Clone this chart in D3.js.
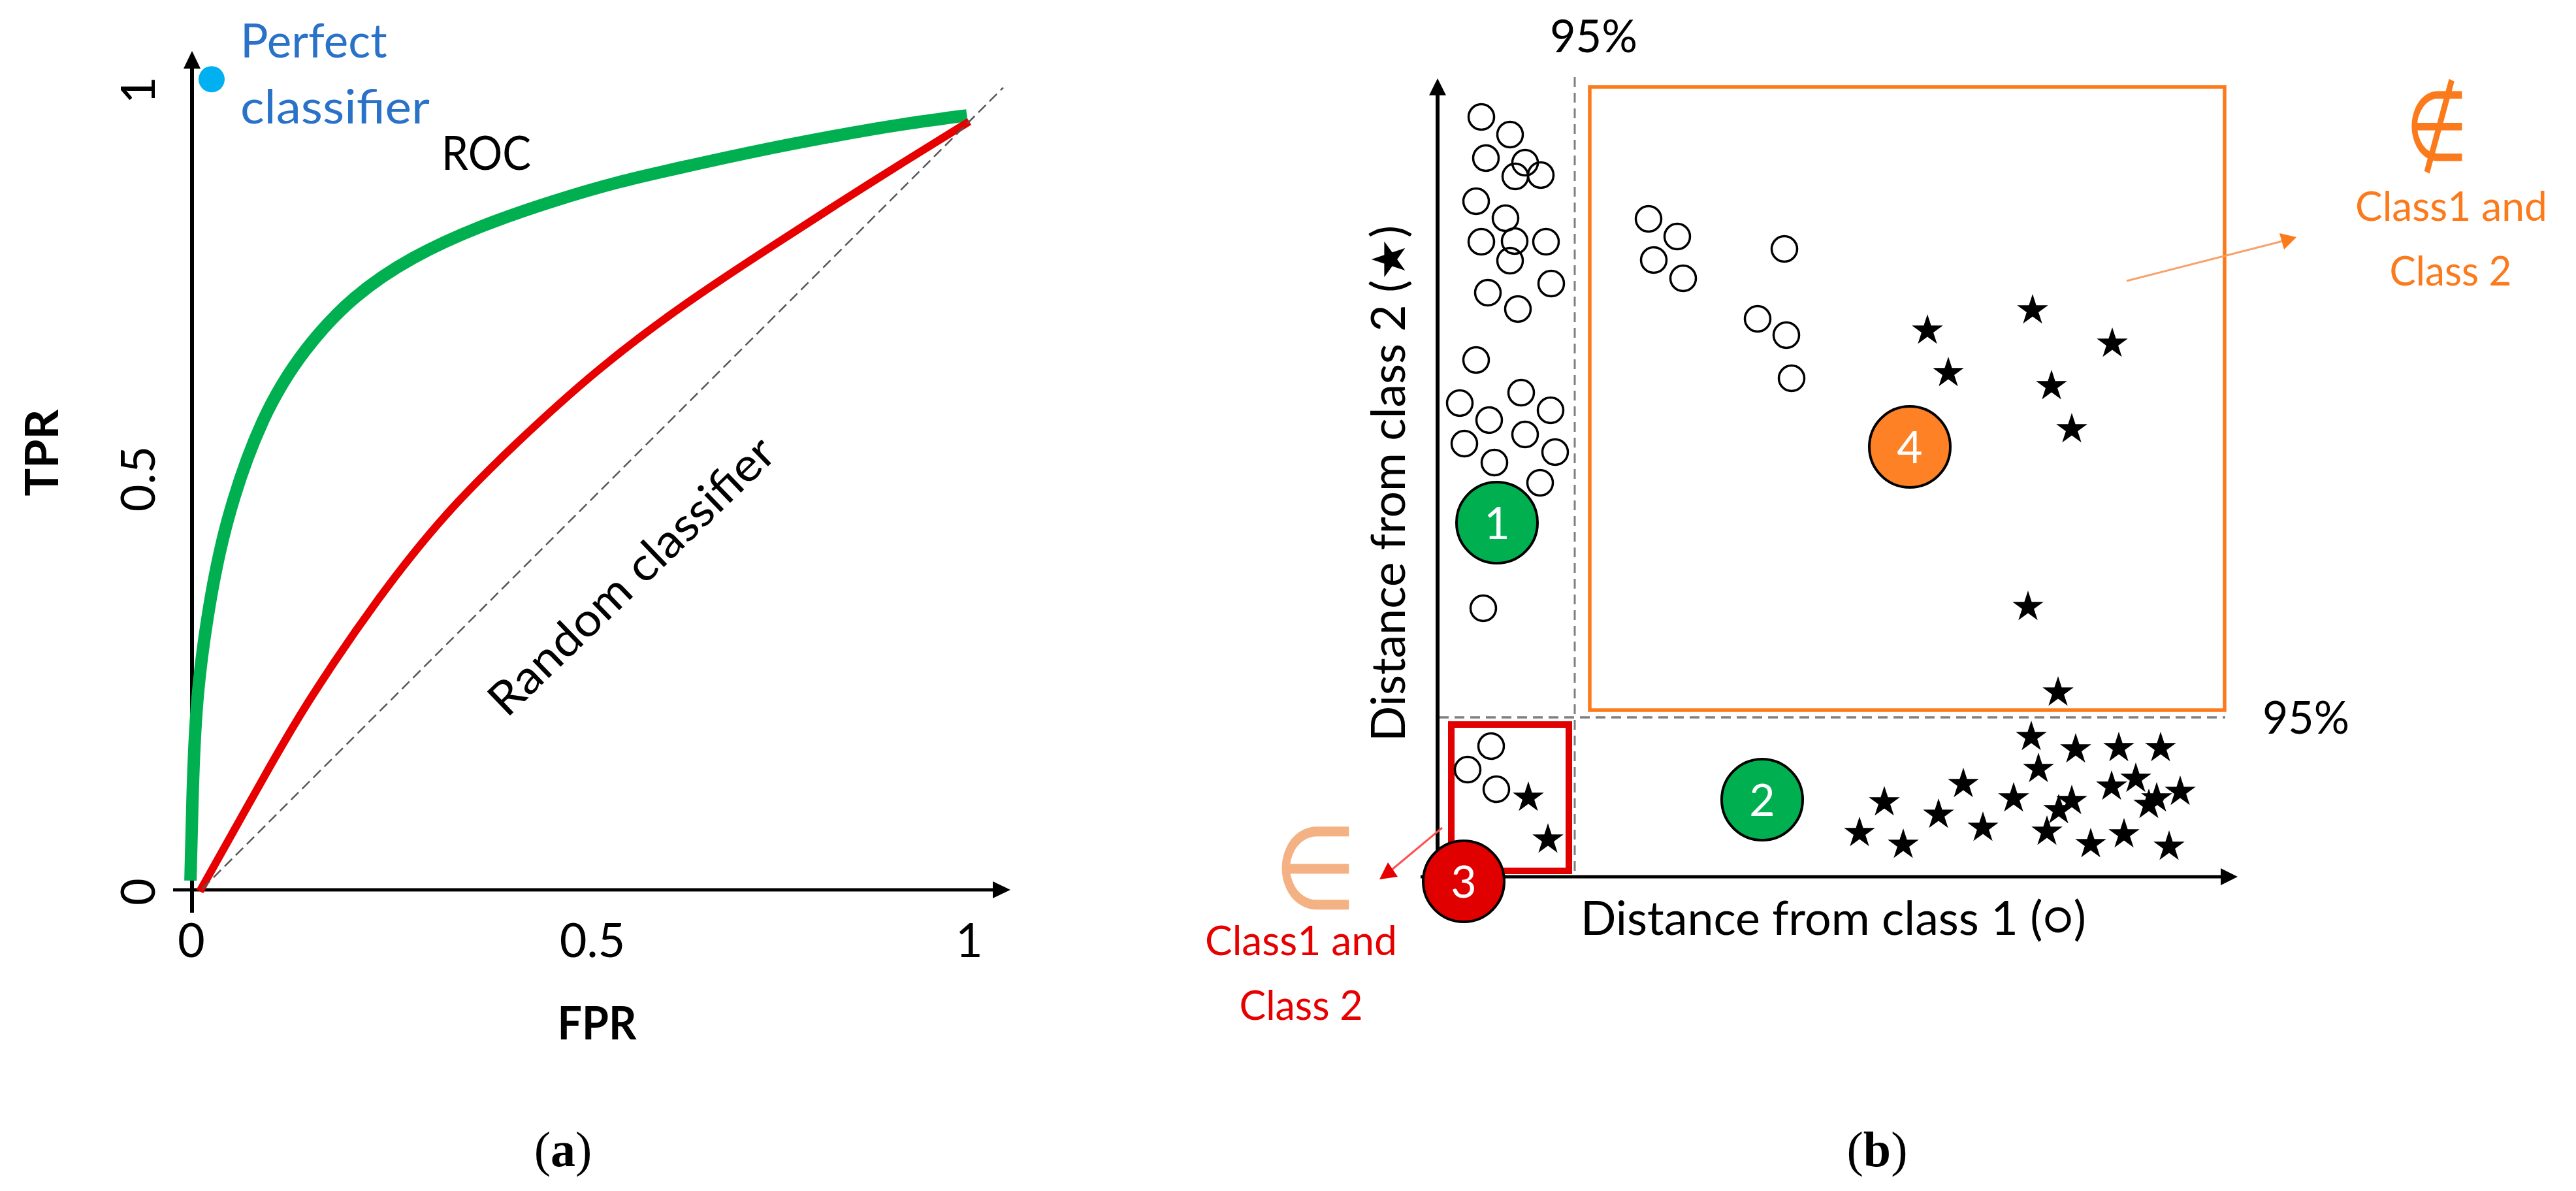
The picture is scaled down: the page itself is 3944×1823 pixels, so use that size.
<!DOCTYPE html>
<html>
<head>
<meta charset="utf-8">
<script src="https://cdn.jsdelivr.net/npm/d3@7"></script>
<style>
html,body{margin:0;padding:0;background:#fff}
svg{display:block}
text{font-family:Lato,"Open Sans",sans-serif}
</style>
</head>
<body>
<div id="chart"></div>
<script>
// Panel (a): ROC curves
const greenFpr = [-0.002,0.001,0.006,0.021,0.042,0.089,0.145,0.207,0.282,0.372,0.465,0.549,0.633,0.717,0.829,0.915,0.997];
const greenTpr = [0.012,0.145,0.256,0.367,0.478,0.617,0.706,0.773,0.824,0.865,0.897,0.922,0.941,0.960,0.982,0.997,1.008];
const redFpr = [0.010,0.097,0.145,0.240,0.327,0.415,0.520,0.633,0.745,0.829,0.915,1.0];
const redTpr = [-0.002,0.155,0.240,0.382,0.492,0.580,0.677,0.763,0.837,0.892,0.947,1.0];
const diagFpr = [0.0134,1.0437];
const diagTpr = [0.0017,1.0442];
const tickValues = [0,0.5,1];
const tickLabels = ["0","0.5","1"];
const perfectPoint = [0.0252,1.055];

// Panel (b): distances in arbitrary units
const circleX = [67,111,74,134,158,119,59,104,67,118,166,111,77,174,123,59,34,128,173,79,41,134,180,87,157,70,323,367,331,376,531,490,534,542,82,46,90];
const circleY = [1163,1136,1100,1093,1074,1072,1034,1008,972,973,972,943,894,908,869,791,725,741,714,699,663,677,650,634,603,411,1007,980,944,916,961,854,829,763,200,164,134];
const starX = [911,750,1033,782,940,971,904,950,139,169,909,977,1043,1107,920,1069,1032,1137,805,684,882,971,1101,1089,951,767,835,933,646,1051,1000,713,1120];
const starY = [867,836,816,771,751,685,413,282,121,57,214,195,197,197,165,150,138,130,142,114,120,116,120,110,102,95,75,69,67,65,50,49,46];
const zoneLabels = ["1","2","3","4"];
const zoneX = [91,497,40,723];
const zoneY = [542,118,-7,658];
const zoneFill = ["#00b050","#00b050","#e00000","#ff8125"];
const thresholdX = 210;
const thresholdY = 244;

const W = 3944, H = 1823;
const svg = d3.select("#chart").append("svg").attr("width",W).attr("height",H).attr("viewBox",`0 0 ${W} ${H}`);
svg.append("rect").attr("width",W).attr("height",H).attr("fill","#fff");

const ax = d3.scaleLinear().domain([0,1]).range([294,1484]);
const ay = d3.scaleLinear().domain([0,1]).range([1362,186]);
const bx = d3.scaleLinear().domain([0,1206]).range([2201,3407]);
const by = d3.scaleLinear().domain([0,1209]).range([1342,133]);

function txt(x,y,s,o={}){
  const t = svg.append("text").attr("x",x).attr("y",y).text(s)
    .attr("font-size",o.size||71).attr("fill",o.fill||"#000")
    .attr("text-anchor",o.anchor||"start");
  if(o.weight) t.attr("font-weight",o.weight);
  if(o.family) t.style("font-family",o.family);
  if(o.rotate!==undefined) t.attr("transform",`rotate(${o.rotate} ${x} ${y})`);
  if(o.len) t.attr("textLength",o.len).attr("lengthAdjust","spacingAndGlyphs");
  return t;
}
function tri(points,fill){ svg.append("polygon").attr("points",points.map(p=>p.join(",")).join(" ")).attr("fill",fill); }

/* ---------- panel a ---------- */
const g = svg.append("g");
g.append("line").attr("x1",294).attr("x2",294).attr("y1",1397).attr("y2",100).attr("stroke","#000").attr("stroke-width",6);
g.append("line").attr("x1",265).attr("x2",1525).attr("y1",ay(0)).attr("y2",ay(0)).attr("stroke","#000").attr("stroke-width",5);
tri([[294,78],[281,105],[307,105]],"#000");
tri([[1547,1362],[1520,1349],[1520,1375]],"#000");

const line = d3.line().curve(d3.curveBasis);
g.append("path").attr("d",line(greenFpr.map((d,i)=>[ax(d),ay(greenTpr[i])]))).attr("fill","none").attr("stroke","#00b050").attr("stroke-width",19);
g.append("path").attr("d",line(redFpr.map((d,i)=>[ax(d),ay(redTpr[i])]))).attr("fill","none").attr("stroke","#e60000").attr("stroke-width",12);
g.append("line").attr("x1",ax(diagFpr[0])).attr("y1",ay(diagTpr[0])).attr("x2",ax(diagFpr[1])).attr("y2",ay(diagTpr[1]))
  .attr("stroke","#555").attr("stroke-width",2.5).attr("stroke-dasharray","16 8");
g.append("ellipse").attr("cx",ax(perfectPoint[0])).attr("cy",ay(perfectPoint[1])).attr("rx",20).attr("ry",20).attr("fill","#00b0f0");

const xTickNudge = [-1,18,0], yTickNudge = [3,-41,-48];
tickValues.forEach((v,i)=>{
  txt(ax(v)+xTickNudge[i],1465,tickLabels[i],{anchor:"middle",size:72});
  txt(237,ay(v)+yTickNudge[i],tickLabels[i],{anchor:"middle",size:72,rotate:-90});
});
txt(914,1591,"FPR",{anchor:"middle",weight:700,size:70,len:121});
txt(89,693,"TPR",{anchor:"middle",weight:700,size:70,rotate:-90,len:133});
txt(368,88,"Perfect",{fill:"#2a72c8",size:71});
txt(368,189,"classifier",{fill:"#2a72c8",size:71,len:290});
txt(676,260,"ROC",{size:71,len:137});
txt(776,1100,"Random classifier",{size:71,rotate:-44,len:578});

const capt = (x,l)=>{
  const t = svg.append("text").attr("x",x).attr("y",1785).attr("text-anchor","middle").attr("font-size",76).style("font-family","'Liberation Serif',serif");
  t.append("tspan").text("(");
  t.append("tspan").attr("font-weight",700).text(l);
  t.append("tspan").text(")");
};
capt(862,"a"); capt(2874,"b");

/* ---------- panel b ---------- */
const b = svg.append("g");
b.append("line").attr("x1",bx(thresholdX)).attr("x2",bx(thresholdX)).attr("y1",118).attr("y2",1340).attr("stroke","#7f7f7f").attr("stroke-width",3).attr("stroke-dasharray","15 9");
b.append("line").attr("x1",2203).attr("x2",bx(1206)).attr("y1",by(thresholdY)).attr("y2",by(thresholdY)).attr("stroke","#7f7f7f").attr("stroke-width",3.5).attr("stroke-dasharray","15 9");
b.append("rect").attr("x",bx(233)).attr("y",by(1209)).attr("width",bx(1205)-bx(233)).attr("height",by(255)-by(1209)).attr("fill","none").attr("stroke","#fb7a1c").attr("stroke-width",5.5);
b.append("rect").attr("x",bx(21)).attr("y",by(233)).attr("width",bx(201)-bx(21)).attr("height",by(9)-by(233)).attr("fill","none").attr("stroke","#e00000").attr("stroke-width",10);

b.append("line").attr("x1",2201).attr("x2",2201).attr("y1",1344).attr("y2",140).attr("stroke","#000").attr("stroke-width",6);
b.append("line").attr("x1",2175).attr("x2",3405).attr("y1",1342).attr("y2",1342).attr("stroke","#000").attr("stroke-width",5);
tri([[2201,120],[2188,146],[2214,146]],"#000");
tri([[3426,1342],[3400,1329],[3400,1355]],"#000");

b.selectAll("circle.pt").data(circleX.map((d,i)=>[d,circleY[i]])).join("circle").attr("class","pt")
  .attr("cx",d=>bx(d[0])).attr("cy",d=>by(d[1])).attr("r",19.5).attr("fill","none").attr("stroke","#000").attr("stroke-width",3.5);
const star = d3.symbol().type(d3.symbolStar).size(702);
b.selectAll("path.st").data(starX.map((d,i)=>[d,starY[i]])).join("path").attr("class","st")
  .attr("d",star).attr("transform",d=>`translate(${bx(d[0])},${by(d[1])})`).attr("fill","#000");

// arrows
b.append("line").attr("x1",3256).attr("y1",430).attr("x2",3495).attr("y2",369).attr("stroke","#f9a06a").attr("stroke-width",3);
tri([[3516,363],[3490,357],[3497,382]],"#fb7a1c");
b.append("line").attr("x1",2208).attr("y1",1267).attr("x2",2130).attr("y2",1332).attr("stroke","#ff5050").attr("stroke-width",3);
tri([[2112,1346],[2125,1320],[2140,1342]],"#e60000");

// zone markers
zoneLabels.forEach((l,i)=>{
  const cx = bx(zoneX[i]), cy = by(zoneY[i]);
  b.append("circle").attr("cx",cx).attr("cy",cy).attr("r",62).attr("fill",zoneFill[i]).attr("stroke","#000").attr("stroke-width",4);
  txt(cx,cy+25,l,{anchor:"middle",fill:"#fff",size:68});
});

txt(2373,80,"95%",{size:70,len:134});
txt(3464,1123,"95%",{size:70,len:133});
txt(2151,1135,"Distance from class 2 (★)",{size:71,rotate:-90,len:790});
txt(2420,1431,"Distance from class 1 (○)",{size:71,len:774});

txt(3753,338,"Class1 and",{anchor:"middle",fill:"#fb7a1c",size:62,len:294});
txt(3752,437,"Class 2",{anchor:"middle",fill:"#fb7a1c",size:62,len:187});
txt(1992,1462,"Class1 and",{anchor:"middle",fill:"#e60000",size:62,len:294});
txt(1992,1561,"Class 2",{anchor:"middle",fill:"#e60000",size:62,len:189});

// set-membership symbols as real text
function sym(s,cx,baseY,sx,sy,fill,sw){
  svg.append("text").attr("transform",`translate(${cx},${baseY}) scale(${sx},${sy})`)
    .attr("text-anchor","middle").attr("font-size",100).attr("fill",fill)
    .attr("stroke",fill).attr("stroke-width",sw).text(s).style("font-family","'DejaVu Sans',sans-serif");
}
sym("∈",2014,1390,1.45,1.75,"#f4b183",0.8);
sym("∉",3731,245,1.1,1.49,"#fb7a1c",0);
</script>
</body>
</html>
